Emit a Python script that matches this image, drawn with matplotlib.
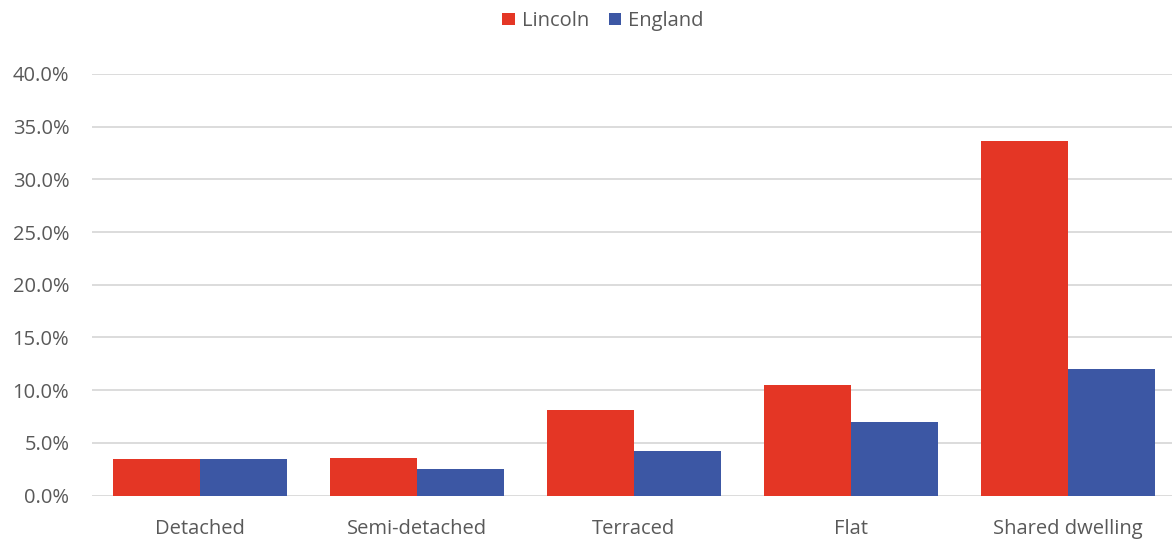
import numpy as np
import matplotlib.pyplot as plt
from matplotlib.ticker import FuncFormatter

categories = ['Detached', 'Semi-detached', 'Terraced', 'Flat', 'Shared dwelling']
lincoln = [3.42, 3.6, 8.16, 10.53, 33.68]
england = [3.42, 2.52, 4.27, 6.98, 12.02]
yticks = [0, 5, 10, 15, 20, 25, 30, 35, 40]

red = '#E43625'
blue = '#3C57A4'
text_col = '#595959'

plt.rcParams['font.family'] = ['Open Sans', 'DejaVu Sans']

fig = plt.figure(figsize=(11.72, 5.4), dpi=100)
ax = fig.add_axes([91.5 / 1172, 44.5 / 540, 1080.5 / 1172, 421.5 / 540])

x = np.arange(len(categories))
w = 0.4
ax.bar(x - w / 2, lincoln, w, color=red, label='Lincoln', zorder=3)
ax.bar(x + w / 2, england, w, color=blue, label='England', zorder=3)

ax.set_xlim(-0.5, -0.5 + 1080.5 / 217)
ax.set_ylim(0, 40)
ax.set_yticks(yticks)
ax.yaxis.set_major_formatter(FuncFormatter(lambda v, p: f'{v:.1f}%'))
ax.set_xticks(x)
ax.set_xticklabels(categories)
ax.grid(axis='y', color='#D9D9D9', linewidth=1.3, zorder=0)
for s in ax.spines.values():
    s.set_visible(False)
ax.tick_params(axis='both', length=0, colors=text_col, labelsize=14.5)
ax.tick_params(axis='x', pad=17)
ax.tick_params(axis='y', pad=16)

fig.legend(loc='center', bbox_to_anchor=(603 / 1172, 1 - 21 / 540), ncol=2,
           frameon=False, fontsize=14.5, labelcolor=text_col,
           handlelength=0.6, handleheight=0.6, handletextpad=0.35, columnspacing=1.0)

fig.savefig('out.png', dpi=100)
